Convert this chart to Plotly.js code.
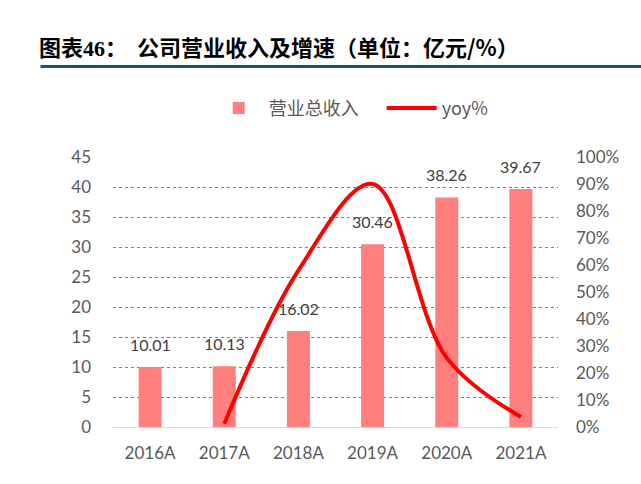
<!DOCTYPE html>
<html>
<head>
<meta charset="utf-8">
<script src="https://cdn.plot.ly/plotly-3.0.1.min.js"></script>
<style>
body{margin:0;background:#fff;}
#chart{width:641px;height:484px;}
</style>
</head>
<body>
<div id="chart"></div>
<script>
// ================= DATA =================
let years = ["2016A","2017A","2018A","2019A","2020A","2021A"];
let revenue = [10.01,10.13,16.02,30.46,38.26,39.67];
let yoyYears = ["2017A","2018A","2019A","2020A","2021A"];
let yoy = [0.012,0.58,0.90,0.256,0.037];

let numFont = "Lato, 'Noto Sans', 'Noto Sans CJK SC', sans-serif";
let cjkFont = "'Noto Sans CJK SC', sans-serif";

// ================= TRACES =================
let barTrace = {
x: years,
y: revenue,
type: "bar",
name: "营业总收入",
marker: {color: "#ff7f7f"},
width: 0.31,
hoverinfo: "x+y"
};

let lineTrace = {
x: yoyYears,
y: yoy,
type: "scatter",
mode: "lines",
name: "yoy%",
yaxis: "y2",
line: {color: "#ff0000", width: 4, shape: "spline", smoothing: 1}
};

// data labels above bars
let labels = years.map((yr, i) => ({
x: yr, y: revenue[i],
xref: "x", yref: "y",
text: revenue[i].toFixed(2),
showarrow: false,
yanchor: "bottom",
yshift: 11,
font: {family: numFont, size: 16, color: "#404040"}
}));

// ================= LAYOUT =================
let layout = {
width: 641,
height: 484,
margin: {l: 113, r: 83, t: 157, b: 57},
paper_bgcolor: "#fff",
plot_bgcolor: "#fff",
showlegend: true,
legend: {
orientation: "h",
x: 0.215, xanchor: "left",
y: 1.18, yanchor: "middle",
font: {family: cjkFont, size: 18, color: "#595959"},
itemwidth: 50,
entrywidth: 108
},
xaxis: {
type: "category",
showline: true,
linecolor: "#d9d9d9",
linewidth: 1,
ticks: "",
tickfont: {family: numFont, size: 17, color: "#595959"},
ticklabelstandoff: 11,
showgrid: false
},
yaxis: {
range: [0, 45],
dtick: 5,
showgrid: true,
gridcolor: "#808080",
griddash: "dot",
gridwidth: 1,
zeroline: false,
tickfont: {family: numFont, size: 17, color: "#595959"},
ticklabelstandoff: 21
},
yaxis2: {
overlaying: "y",
side: "right",
range: [0, 1],
dtick: 0.1,
tickformat: ".0%",
showgrid: false,
zeroline: false,
tickfont: {family: numFont, size: 17, color: "#595959"},
ticklabelstandoff: 17
},
annotations: labels.concat([{
xref: "paper", yref: "paper",
x: -0.17, xanchor: "left",
y: 1.41, yanchor: "middle",
showarrow: false,
text: "<b>图表<span style='font-family:Liberation Serif'>46</span>：  公司营业收入及增速（单位：亿元/%）</b>",
font: {family: cjkFont, size: 22, color: "#000"}
}]),
shapes: [{
type: "line",
xref: "paper", yref: "paper",
x0: -0.163, x1: 1.2,
y0: 1.335, y1: 1.335,
line: {color: "#1f4e79", width: 3}
}]
};

Plotly.newPlot("chart", [barTrace, lineTrace], layout, {displayModeBar: false, staticPlot: true});
</script>
</body>
</html>
